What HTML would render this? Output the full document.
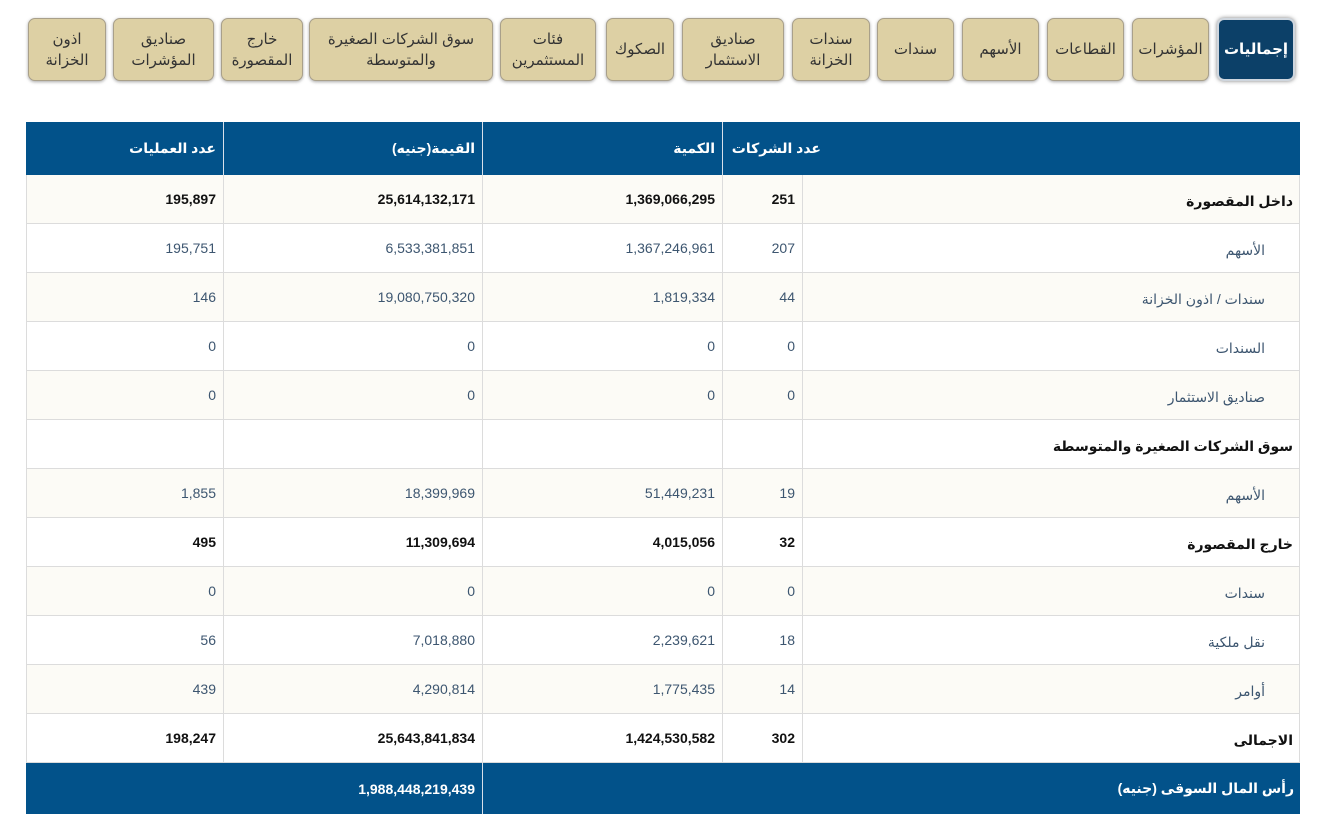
<!DOCTYPE html>
<html lang="ar">
<head>
<meta charset="utf-8">
<style>
  html,body{margin:0;padding:0;background:#fff;width:1323px;height:833px;overflow:hidden;}
  body{font-family:"Liberation Sans","DejaVu Sans",sans-serif;position:relative;}
  .tab{position:absolute;top:18px;height:63px;background:#ddd0a4;border:1px solid #a9a08a;border-radius:7px;box-shadow:0 1px 3px rgba(0,0,0,.35);box-sizing:border-box;display:flex;align-items:center;justify-content:center;text-align:center;font-size:15px;line-height:21px;color:#333;cursor:pointer;}
  .tab.active{background:#0c4068;color:#fff;font-weight:bold;border:2px solid #cfd6de;box-shadow:0 0 4px rgba(0,0,0,.5);}
  .cell{position:absolute;box-sizing:border-box;font-size:14px;display:flex;align-items:center;}
  .hdr{background:#02528a;color:#fff;font-weight:bold;font-size:14px;}
  .num{justify-content:flex-end;padding-right:7px;}
  .lbl{direction:rtl;justify-content:flex-start;}
</style>
</head>
<body>
<div id="tabs"></div>
<div id="tbl"></div>
<script>
const tabLabels=["إجماليات","المؤشرات","القطاعات","الأسهم","سندات","سندات<br>الخزانة","صناديق<br>الاستثمار","الصكوك","فئات<br>المستثمرين","سوق الشركات الصغيرة<br>والمتوسطة","خارج<br>المقصورة","صناديق<br>المؤشرات","اذون<br>الخزانة"];
const tabNames=["totals-tab","indices-tab","sectors-tab","stocks-tab","bonds-tab","treasury-bonds-tab","investment-funds-tab","sukuk-tab","investor-categories-tab","sme-market-tab","otc-tab","index-funds-tab","treasury-bills-tab"];
const tabX=[[1217,1295],[1132,1209],[1047,1124],[962,1039],[877,954],[792,870],[682,784],[606,674],[500,596],[309,493],[221,303],[113,214],[28,106]];
const tabsEl=document.getElementById('tabs');
tabLabels.forEach((t,i)=>{
  const d=document.createElement('div');
  d.className='tab'+(i===0?' active':'');
  d.style.left=tabX[i][0]+'px';d.style.width=(tabX[i][1]-tabX[i][0])+'px';
  d.innerHTML=t;
  
  
  tabsEl.appendChild(d);
});

const rowLabels=["داخل المقصورة","الأسهم","سندات / اذون الخزانة","السندات","صناديق الاستثمار","سوق الشركات الصغيرة والمتوسطة","الأسهم","خارج المقصورة","سندات","نقل ملكية","أوامر","الاجمالى"];
const rowBold=[1,0,0,0,0,1,0,1,0,0,0,1];
const companies=["251","207","44","0","0","","19","32","0","18","14","302"];
const quantity=["1,369,066,295","1,367,246,961","1,819,334","0","0","","51,449,231","4,015,056","0","2,239,621","1,775,435","1,424,530,582"];
const value=["25,614,132,171","6,533,381,851","19,080,750,320","0","0","","18,399,969","11,309,694","0","7,018,880","4,290,814","25,643,841,834"];
const trades=["195,897","195,751","146","0","0","","1,855","495","0","56","439","198,247"];
const marketCap="1,988,448,219,439";

const tbl=document.getElementById('tbl');
function cell(x1,x2,y,h,cls,html,bg,name,extra){
  const c=document.createElement('div');
  c.className='cell '+cls;
  c.style.left=x1+'px';c.style.width=(x2-x1)+'px';c.style.top=y+'px';c.style.height=h+'px';
  if(bg)c.style.background=bg;
  c.innerHTML=html;
  if(extra)Object.assign(c.style,extra);
  
  
  tbl.appendChild(c);
  return c;
}
const L=26,R=1300,c1=224,c2=483,c3=723,c4=803;
cell(L,R,122,53,'hdr','',null,'header-row');
cell(L,c1,122,53,'hdr num','عدد العمليات',null,'header-trades',{borderRight:'1px solid #d8e0ea'});
cell(c1,c2,122,53,'hdr num','القيمة(جنيه)',null,'header-value',{borderRight:'1px solid #d8e0ea'});
cell(c2,c3,122,53,'hdr num','الكمية',null,'header-quantity',{borderRight:'1px solid #d8e0ea'});
cell(c3,c4+25,122,53,'hdr num','عدد الشركات',null,'header-companies');
const rowH=49,top0=175;
rowLabels.forEach((lab,i)=>{
  const y=top0+i*rowH;
  const bg=i%2===0?'#fcfbf6':'#ffffff';
  const b=rowBold[i];
  const col=b?'#111':'#3d5670';
  const st={borderBottom:'1px solid #dcdcdc',borderRight:'1px solid #dcdcdc',color:col,fontWeight:b?'bold':'normal'};
  cell(L,c1,y,rowH,'num',trades[i],bg,'trades-'+i,Object.assign({borderLeft:'1px solid #dcdcdc'},st));
  cell(c1,c2,y,rowH,'num',value[i],bg,'value-'+i,st);
  cell(c2,c3,y,rowH,'num',quantity[i],bg,'quantity-'+i,st);
  cell(c3,c4,y,rowH,'num',companies[i],bg,'companies-'+i,st);
  cell(c4,R,y,rowH,'lbl',lab,bg,'row-label-'+i,Object.assign({},st,{paddingRight:(b?'6px':'34px'),paddingTop:'4px',fontWeight:b?'600':'normal'}));
});
const fy=top0+12*rowH;
cell(L,c2,fy,51,'hdr num',marketCap,null,'market-cap-value',{borderRight:'1px solid #d8e0ea'});
cell(c2,R,fy,51,'hdr lbl','رأس المال السوقى (جنيه)',null,'market-cap-label',{paddingRight:'6px'});
</script>
</body>
</html>
